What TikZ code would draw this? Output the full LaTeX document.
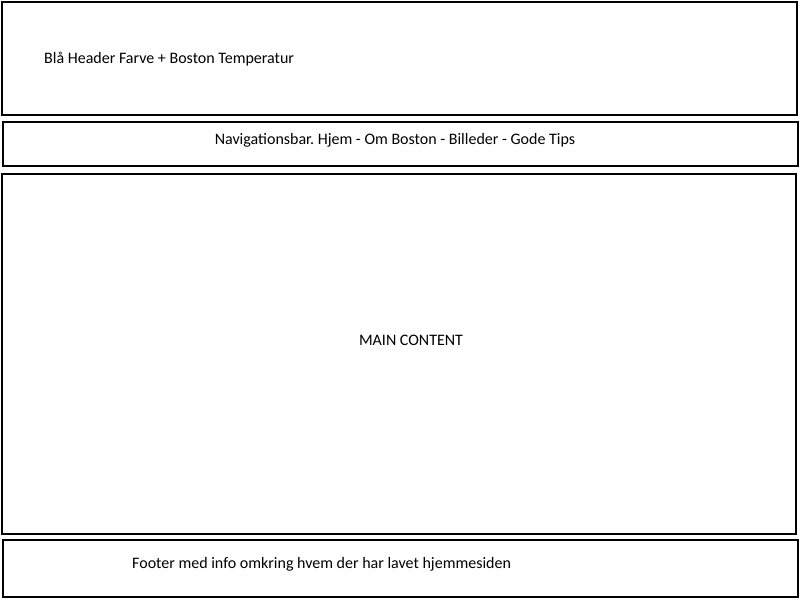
\documentclass[tikz,border=0pt]{standalone}
\usepackage{fontspec}
\setmainfont{Carlito}
\frenchspacing
\begin{document}
\begin{tikzpicture}[x=1pt,y=-1pt]
  \tikzset{
    panel/.style={draw,line width=2pt},
    label/.style={font=\fontsize{16}{18}\selectfont,inner sep=0pt}
  }
  \useasboundingbox (0,0) rectangle (800,600);

  \begin{scope}[every path/.style={panel}]
    \path (2,2)   rectangle (797,115);
    \path (3,122) rectangle (798,166);
    \path (2,174) rectangle (796,534);
    \path (3,540) rectangle (798,597);
  \end{scope}

  \begin{scope}[every node/.style={label}]
    \node[anchor=west] (header) at (44,59)  {Blå Header Farve + Boston Temperatur};
    \node (nav)    at (395,140) {Navigationsbar. Hjem - Om Boston - Billeder - Gode Tips};
    \node (main)   at (411,340) {MAIN CONTENT};
    \node[anchor=west] (footer) at (132,564) {Footer med info omkring hvem der har lavet hjemmesiden};
  \end{scope}

\end{tikzpicture}
\end{document}
